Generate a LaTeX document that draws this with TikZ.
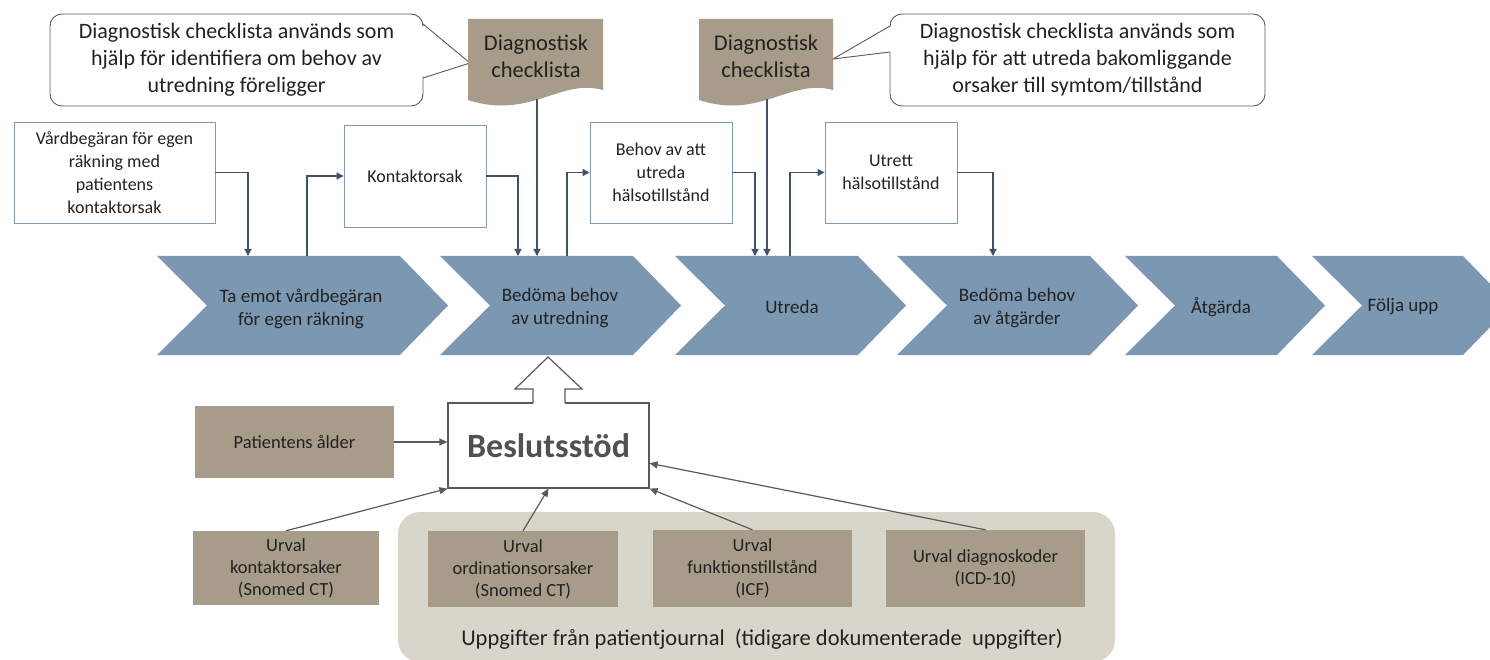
\documentclass[tikz,border=0pt]{standalone}
\usepackage{fontspec}
\setmainfont{Carlito}
\usetikzlibrary{arrows.meta}
\definecolor{chev}{HTML}{7B97B2}
\definecolor{tanc}{HTML}{A69C89}
\definecolor{bgsand}{HTML}{D8D6CA}
\definecolor{conncol}{HTML}{3E5268}
\definecolor{boxedge}{HTML}{7F9AB4}
\definecolor{grayline}{HTML}{5A5A5A}
\definecolor{txt}{HTML}{222222}
\begin{document}
\begin{tikzpicture}[x=1pt,y=-1pt,
  wbox/.style={draw=boxedge, line width=0.9pt, fill=white, align=center, text=txt,
    font=\fontsize{18}{23}\selectfont, inner sep=2pt},
  tanbox/.style={fill=tanc, align=center, text=txt, font=\fontsize{18.5}{22}\selectfont, inner sep=2pt},
  doctext/.style={align=center, text=txt, font=\fontsize{22.5}{27}\selectfont},
  chevtext/.style={align=center, text=txt, font=\fontsize{19}{23}\selectfont},
  callout/.style={draw=grayline, fill=white, rounded corners=12pt, line width=0.9pt,
    align=center, text=txt, font=\fontsize{22}{27}\selectfont},
  chevshape/.style={fill=chev},
  docshape/.style={fill=tanc},
  conn/.style={draw=conncol, line width=1.3pt, -{Triangle[width=7pt,length=7pt]}},
  gconn/.style={draw=grayline, line width=1.2pt, -{Triangle[width=7pt,length=8pt]}},
  tail/.style={draw=grayline, line width=0.9pt, line join=miter}
]
\clip (0,0) rectangle (1490,660);
\fill[white] (0,0) rectangle (1490,660);

% ---------- callouts ----------
\node[callout, minimum width=373pt, minimum height=92pt] (c1) at (236.5,60)
  {Diagnostisk checklista används som\\hjälp för identifiera om behov av\\utredning föreligger};
\fill[white] (421,25) -- (470,63) -- (421,77) -- cycle;
\draw[tail] (423,24) -- (470,63) -- (423,78);

\node[callout, minimum width=375pt, minimum height=92pt] (c2) at (1077.5,60)
  {Diagnostisk checklista används som\\hjälp för att utreda bakomliggande\\orsaker till symtom/tillstånd};
\fill[white] (892,26) -- (833,59) -- (892,52) -- cycle;
\draw[tail] (890,26) -- (833,59) -- (890,52);

% ---------- documents ----------
\fill[docshape] (468,19) -- (603,19) -- (603,90) .. controls (560,78) and (530,120) .. (468,100) -- cycle;
\node[doctext] (doc1) at (536,56.5) {Diagnostisk\\checklista};
\fill[docshape] (699,19) -- (833,19) -- (833,90) .. controls (790,78) and (760,120) .. (699,100) -- cycle;
\node[doctext] (doc2) at (766,56.5) {Diagnostisk\\checklista};

% ---------- white boxes ----------
\node[wbox, minimum width=201pt, minimum height=101pt] (b1) at (114.5,172.5)
  {Vårdbegäran för egen\\räkning med\\patientens\\kontaktorsak};
\node[wbox, minimum width=142pt, minimum height=102pt] (b2) at (415,176) {Kontaktorsak};
\node[wbox, minimum width=142pt, minimum height=101pt] (b3) at (661,172.5)
  {Behov av att\\utreda\\hälsotillstånd};
\node[wbox, minimum width=132pt, minimum height=101pt] (b4) at (891,172.5)
  {Utrett\\hälsotillstånd};

% ---------- chevrons ----------
\foreach \L/\R in {157/400, 440/633, 675/858, 897/1090, 1125/1277, 1312/1463}{
  \fill[chevshape] (\L,256) -- (\R,256) -- (\R+48,305.5) -- (\R,355) -- (\L,355) -- (\L+50,305.5) -- cycle;
}
\node[chevtext] (ch1) at (301,308.5) {Ta emot vårdbegäran\\för egen räkning};
\node[chevtext] (ch2) at (560,308.5) {Bedöma behov\\av utredning};
\node[chevtext] (ch3) at (792,307) {Utreda};
\node[chevtext] (ch4) at (1017,308.5) {Bedöma behov\\av åtgärder};
\node[chevtext] (ch5) at (1221,307) {Åtgärda};
\node[chevtext] (ch6) at (1403,307) {Följa upp};

% ---------- top connectors ----------
\coordinate (a1) at (248,256);
\coordinate (s1) at (307,256);
\coordinate (a2) at (518,256);
\coordinate (d1bot) at (537,99);
\coordinate (a3) at (537,256);
\coordinate (s2) at (567,256);
\coordinate (a4) at (755,256);
\coordinate (d2bot) at (767,99);
\coordinate (a5) at (767,256);
\coordinate (s3) at (790,256);
\coordinate (a6) at (993,256);

\draw[conn] (b1) -| (a1);
\draw[conn] (s1) |- (b2);
\draw[conn] (b2) -| (a2);
\draw[conn] (d1bot) -- (a3);
\draw[conn] (s2) |- (b3);
\draw[conn] (b3) -| (a4);
\draw[conn] (d2bot) -- (a5);
\draw[conn] (s3) |- (b4);
\draw[conn] (b4) -| (a6);

% ---------- lower part ----------
\fill[bgsand, rounded corners=22pt] (398,512) rectangle (1115,662);
\node[text=txt, font=\fontsize{22.5}{26}\selectfont] (bt) at (762,639)
  {Uppgifter från patientjournal\ \ (tidigare dokumenterade\ \ uppgifter)};

\node[draw=grayline, line width=1.2pt, fill=white, minimum width=201pt, minimum height=85pt,
  text=grayline!90!black, font=\fontsize{34}{38}\selectfont\bfseries] (bs) at (548.5,445.5) {Beslutsstöd};
\fill[white] (533,404) -- (533,389) -- (515,389) -- (548,357) -- (582,389) -- (565,389) -- (565,404) -- cycle;
\draw[grayline, line width=1.2pt, line join=miter] (533,403) -- (533,389) -- (515,389) -- (548,357) -- (582,389) -- (565,389) -- (565,403);

\node[tanbox, minimum width=199pt, minimum height=72pt] (pa) at (294.5,442) {Patientens ålder};
\node[tanbox, minimum width=186pt, minimum height=74pt] (uk) at (286,568)
  {Urval\\kontaktorsaker\\(Snomed CT)};
\node[tanbox, minimum width=190pt, minimum height=76pt] (uo) at (523,569)
  {Urval\\ordinationsorsaker\\(Snomed CT)};
\node[tanbox, minimum width=199pt, minimum height=77pt] (uf) at (752.5,568.5)
  {Urval\\funktionstillstånd\\(ICF)};
\node[tanbox, minimum width=199pt, minimum height=77pt] (ud) at (985.5,568.5)
  {Urval diagnoskoder\\(ICD-10)};

\draw[gconn] (pa.east) -- (pa.east -| bs.west);
\draw[gconn] (uk.north) -- (bs.south west);
\draw[gconn] (uo.north) -- (bs.south);
\draw[gconn] (uf.north) -- (bs.south east);
\draw[gconn] (ud.north) -- (bs.-10);
\end{tikzpicture}
\end{document}
